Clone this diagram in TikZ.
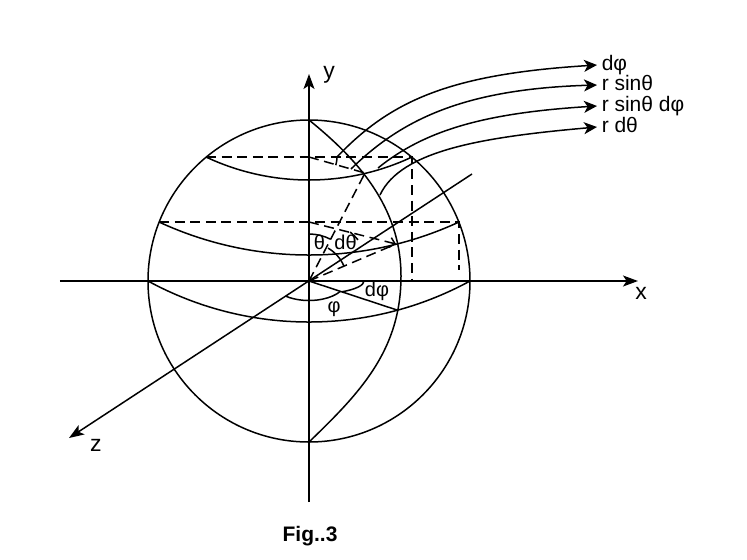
\documentclass[tikz,border=0pt]{standalone}
\usepackage{fontspec}
\setmainfont{Liberation Sans}
\usepackage{tikz}
\usetikzlibrary{arrows.meta, positioning, calc}

\begin{document}
\begin{tikzpicture}[x=0.5pt,y=0.5pt,line width=0.75pt,
	every node/.style={font=\fontsize{10}{12}\selectfont, inner sep=1pt},
	axis/.style={-{Stealth[length=7.5pt,width=5.5pt,inset=1.8pt]}},
	lead/.style={-{Stealth[length=6.5pt,width=6pt,inset=1.8pt]}},
	hidden/.style={dash pattern=on 5pt off 2.8pt},
	radius line/.style={hidden,-{Straight Barb[length=2.5pt,width=5pt]}},
	axis label/.style={font=\fontsize{11.5}{13}\selectfont},
	tag/.style={anchor=west, inner sep=2pt, text height=0.75em, text depth=0.2em,
		font=\fontsize{10.5}{12}\selectfont}]
	\useasboundingbox (-309,-278) rectangle (438,281);

	\coordinate (O) at (0,0);
	\coordinate (xl) at (-249,0);
	\coordinate (xr) at (329,0);
	\coordinate (yb) at (0,-221);
	\coordinate (yt) at (0,207);
	\coordinate (zb) at (163,107);
	\coordinate (zf) at (-240,-157);
	\coordinate (Ct) at (0,124);
	\coordinate (Cm) at (0,59);
	\coordinate (Tl) at (-103,124);
	\coordinate (Tr) at (103,124);
	\coordinate (Ml) at (-150,59);
	\coordinate (Mr) at (150,59);
	\coordinate (El) at (-161,0);
	\coordinate (N) at (0,161);
	\coordinate (S) at (0,-161);
	\coordinate (M) at (92,5);
	\coordinate (P) at (56,108);
	\coordinate (Q) at (87,37);
	\coordinate (E) at (88,-29);

	\draw (O) circle[radius=161];
	\draw[axis] (xl) -- (xr);
	\draw[axis] (yb) -- (yt);
	\draw[axis] (zb) -- (zf);

	\draw (Tl) arc[start angle=244.82, end angle=295.18, radius=242.1];
	\draw (Ml) arc[start angle=245.18, end angle=294.82, radius=357.4];
	\draw (El) arc[start angle=241.42, end angle=298.58, radius=336.6];
	\draw (N) .. controls (47,123) and (92,75) .. (M)
		.. controls (92,-70) and (50,-112.7) .. (S);

	\draw[hidden] (Tl) -- (Tr) -- (103,0);
	\draw[hidden] (Ml) -- (Mr) -- (150,11);
	\draw[hidden] (O) -- (P);
	\draw[hidden] (Ct) -- (P);
	\draw[hidden] (O) -- (Q);
	\draw[radius line] (Cm) -- (Q);
	\draw (O) -- (E);

	\draw (O) ++(90:47) arc[start angle=90, end angle=62.6, radius=47];
	\draw (O) ++(60:38) arc[start angle=60, end angle=23, radius=38];
	\draw (O) ++(50:64) arc[start angle=50, end angle=40, radius=64];
	\draw (Ct) ++(0:28) arc[start angle=0, end angle=-17, radius=28];
	\draw (O) ++(231:37 and 19.5) arc[start angle=231, end angle=328, x radius=37, y radius=19.5];
	\draw (O) ++(-53:55 and 13.5) arc[start angle=-53, end angle=0, x radius=55, y radius=13.5];

	\node (th) at (10.5,39) {θ};
	\node (dth) at (36.5,38.5) {dθ};
	\node (ph) at (25,-28) {φ};
	\node (dph) at (68,-10) {dφ};

	\node[axis label] (ylab) at (20,206) {y};
	\node[axis label] (xlab) at (332,-12) {x};
	\node[axis label] (zlab) at (-213,-164) {z};
	\node[font=\bfseries\fontsize{10.5}{12}\selectfont] (fig) at (1,-255) {Fig..3};

	\node[tag] (l-dphi) at (288,216) {dφ};
	\node[tag] (l-rsin) at (288,196) {r sinθ};
	\node[tag] (l-rsindphi) at (288,175) {r sinθ dφ};
	\node[tag] (l-rdth) at (288,154) {r dθ};

	\coordinate (s-dphi) at (28,124);
	\coordinate (s-rsin) at (42,112);
	\coordinate (s-rsindphi) at (69,113);
	\coordinate (s-rdth) at (71,86);
	\draw[lead] (s-dphi) .. controls (83,182) and (144,207) .. (l-dphi.west);
	\draw[lead] (s-rsin) .. controls (92,161) and (154,192) .. (l-rsin.west);
	\draw[lead] (s-rsindphi) .. controls (116,151) and (176,168) .. (l-rsindphi.west);
	\draw[lead] (s-rdth) .. controls (92,131) and (175,144) .. (l-rdth.west);
\end{tikzpicture}
\end{document}
